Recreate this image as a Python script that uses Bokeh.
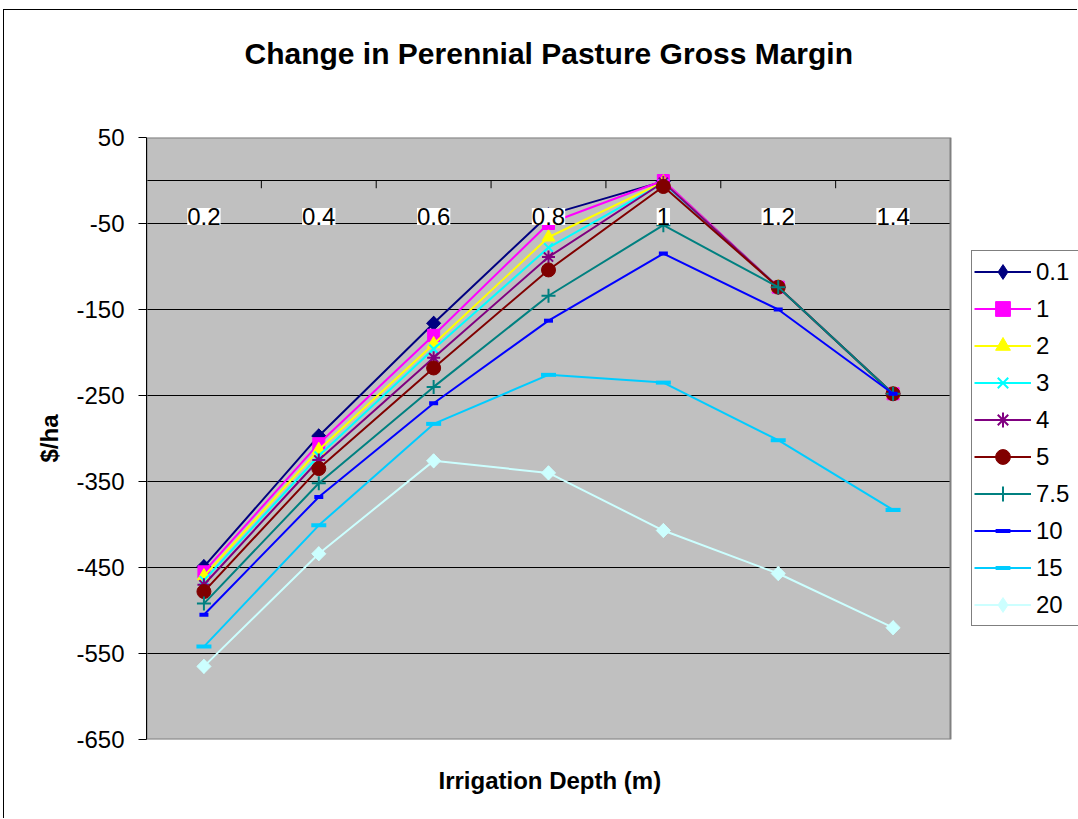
import math
from bokeh.plotting import figure
from bokeh.models import (Range1d, FixedTicker, LabelSet, ColumnDataSource,
                          Legend, LegendItem, Title, PrintfTickFormatter)
from bokeh.core.properties import value
from bokeh.embed import file_html
from bokeh.resources import INLINE

# ---- data ----
depths = ["0.2", "0.4", "0.6", "0.8", "1", "1.2", "1.4"]
series_names = ["0.1", "1", "2", "3", "4", "5", "7.5", "10", "15", "20"]
s_0_1 = [-449, -297, -166, -40, -1, -124, -248]
s_1 = [-455, -306, -180, -50, 0, -124, -248]
s_2 = [-460, -313, -190, -66, -2, -124, -248]
s_3 = [-465, -320, -196, -78, -3, -124, -248]
s_4 = [-470, -325, -206, -89, -2, -124, -248]
s_5 = [-478, -335, -218, -104, -7, -124, -248]
s_7_5 = [-492, -352, -240, -134, -52, -124, -248]
s_10 = [-505, -368, -259, -163, -85, -150, -248]
s_15 = [-542, -401, -283, -226, -235, -302, -383]
s_20 = [-565, -434, -326, -340, -407, -457, -520]
y_ticks = [-650, -550, -450, -350, -250, -150, -50, 50]

all_series = [s_0_1, s_1, s_2, s_3, s_4, s_5, s_7_5, s_10, s_15, s_20]

# ---- styles / layout ----
colors = ["#000080", "#FF00FF", "#FFFF00", "#00FFFF", "#800080", "#800000",
          "#008080", "#0000FF", "#00CCFF", "#CCFFFF"]
markers = ["diamond", "square", "triangle", "x", "asterisk", "circle",
           "cross", "dash", "dash", "diamond"]
sizes = [14, 12, 13, 12, 13, 14, 14, 9, 15, 14]
mk_lw = [1, 1, 1, 2, 2, 1, 2, 4, 4, 1]
FONT = "Liberation Sans"

W, H = 1074, 809
LEFT, TOP, BOTTOM = 142, 127, 80
AREA_W = 804                      # pixel width of the grey plot area
FRAME_W = W - LEFT                # frame also holds the legend on the right

n = len(depths)
xpos = [i + 0.5 for i in range(n)]          # category centres
ymin, ymax = y_ticks[0], y_ticks[-1]

p = figure(width=W, height=H,
           x_range=Range1d(0, n * FRAME_W / AREA_W), y_range=Range1d(ymin, ymax),
           output_backend="svg", toolbar_location=None,
           x_axis_location=None,
           min_border_left=LEFT, min_border_right=0,
           min_border_top=TOP, min_border_bottom=BOTTOM,
           background_fill_color="white", border_fill_color="white")
p.styles = {"border-left": "1px solid black", "border-top": "1px solid black",
            "margin-left": "3px", "margin-top": "9px"}
p.outline_line_color = None
p.xgrid.grid_line_color = None
p.ygrid.grid_line_color = None

# spacer (closest to the frame) then the chart title above it
p.add_layout(Title(text=" ", text_font=FONT, text_font_size="10px",
                   standoff=50), "above")
p.add_layout(Title(text="Change in Perennial Pasture Gross Margin", align="left",
                   offset=98,
                   text_font=FONT, text_font_size="30px", text_font_style="bold",
                   text_color="black", standoff=10), "above")

# y axis
p.yaxis.ticker = FixedTicker(ticks=y_ticks)
p.yaxis.formatter = PrintfTickFormatter(format="%d")
p.yaxis.major_label_text_font = FONT
p.yaxis.major_label_text_font_size = "24px"
p.yaxis.major_label_text_color = "black"
p.yaxis.major_tick_in = 0
p.yaxis.major_tick_out = 8
p.yaxis.minor_tick_line_color = None
p.yaxis.major_label_standoff = 14
p.yaxis.axis_line_color = "black"
p.yaxis.major_tick_line_color = "black"
p.yaxis.axis_label = "$/ha"
p.yaxis.axis_label_text_font = FONT
p.yaxis.axis_label_text_font_size = "24px"
p.yaxis.axis_label_text_font_style = "bold"
p.yaxis.axis_label_text_color = "black"
p.yaxis.axis_label_standoff = 10

# x axis title below the plot
p.add_layout(Title(text="Irrigation Depth (m)", align="left", offset=292,
                   text_font=FONT, text_font_size="24px",
                   text_font_style="bold", text_color="black",
                   standoff=50), "below")

# grey plot area, grid, category axis line at y = 0
p.quad(left=0, right=n, bottom=ymin, top=ymax, fill_color="#C0C0C0", line_color=None)
inner = y_ticks[1:-1]
p.segment(x0=[0] * len(inner), y0=inner, x1=[n] * len(inner), y1=inner,
          line_color="black", line_width=1)
p.segment(x0=[0], y0=[0], x1=[n], y1=[0], line_color="black", line_width=1)
bounds = list(range(n + 1))
p.segment(x0=bounds, y0=[0] * len(bounds), x1=bounds, y1=[-9] * len(bounds),
          line_color="black", line_width=1)
p.quad(left=0, right=n, bottom=ymin, top=ymax, fill_color=None,
       line_color="#808080", line_width=2)

items = []
for name, vals, c, m, s, lw in zip(series_names, all_series, colors,
                                   markers, sizes, mk_lw):
    lr = p.line(xpos, vals, line_color=c, line_width=2)
    if m in ("dash", "x", "asterisk", "cross"):
        sr = p.scatter(xpos, vals, marker=m, size=s, line_color=c, line_width=lw)
    else:
        sr = p.scatter(xpos, vals, marker=m, size=s,
                       fill_color=c, line_color=c, line_width=lw)
    if m == "diamond":
        # Excel-style square diamond drawn over the (narrower) legend diamond
        p.scatter(xpos, vals, marker="square", angle=math.pi / 4, size=10,
                  fill_color=c, line_color=c, line_width=1)
    items.append(LegendItem(label=name, renderers=[lr, sr]))

# category labels with white boxes, just under the y=0 axis line
lab_src = ColumnDataSource(dict(x=xpos, y=[-42] * n, t=depths))
p.add_layout(LabelSet(x="x", y="y", text="t", source=lab_src,
                      text_align="center", text_baseline="middle",
                      text_font=value(FONT), text_font_size=value("24px"),
                      text_color="black",
                      background_fill_color="white"))

legend = Legend(items=items, location=(825, 113))
legend.border_line_color = "black"
legend.border_line_width = 1
legend.background_fill_color = "white"
legend.background_fill_alpha = 1
legend.label_text_font = FONT
legend.label_text_font_size = "24px"
legend.label_text_color = "black"
legend.glyph_width = 57
legend.glyph_height = 37
legend.label_height = 37
legend.label_width = 41
legend.spacing = 0
legend.padding = 2
legend.margin = 0
legend.label_standoff = 5
p.add_layout(legend)

open("out.html", "w").write(file_html(p, INLINE))
